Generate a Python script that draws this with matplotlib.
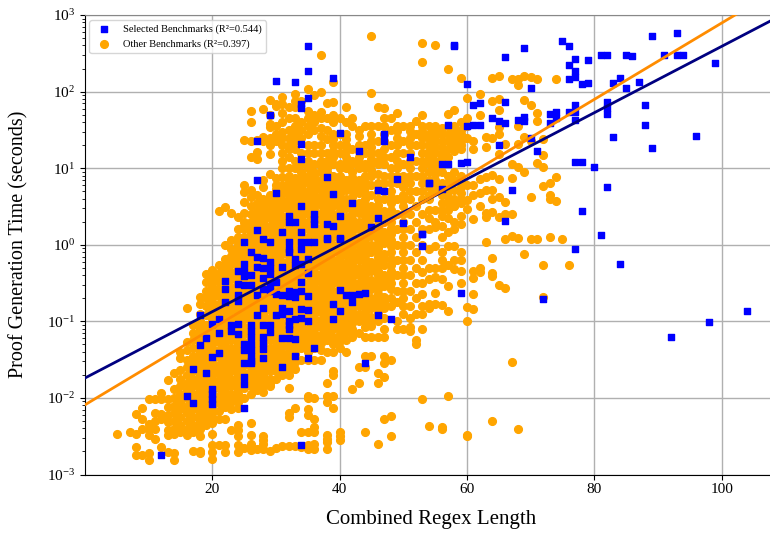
import numpy as np
import matplotlib
matplotlib.use("Agg")
import matplotlib.pyplot as plt
from matplotlib.ticker import NullFormatter

plt.rcParams["font.family"] = ["Liberation Serif", "DejaVu Serif"]
plt.rcParams["mathtext.fontset"] = "custom"
plt.rcParams["mathtext.rm"] = "Liberation Serif"
plt.rcParams["mathtext.it"] = "Liberation Serif:italic"
plt.rcParams["mathtext.default"] = "rm"

# selected benchmarks: regex length, log10 of seconds
selected_len = [35, 35, 30, 33, 39, 35, 34, 34, 29, 27, 40, 34, 47, 47, 43, 34, 51, 38, 49, 27, 54, 46, 47, 30, 39,
                42, 34, 32, 36, 36, 36, 32, 33, 40, 46, 38, 39, 45, 50, 27, 31, 34, 53, 38, 40,
                25, 28, 29, 32, 32, 32, 34, 35, 36, 34, 38, 40, 53, 26, 27, 28, 29, 29, 29, 33, 33, 35, 34, 31, 25,
                24, 25, 26, 25, 27, 28, 35, 22, 22, 24, 25, 26, 28, 28, 29, 30, 34, 27, 29, 30, 31, 32, 32, 33, 33,
                34, 35, 24, 24, 22, 40, 41, 42, 43, 44, 39, 42, 40, 39, 46, 48, 31, 31, 32, 30, 28, 27, 34, 35, 34,
                33, 35, 32, 18, 21, 20, 23, 23, 24, 24, 21, 19, 18, 26, 26, 26, 26, 26, 26, 26, 26, 25, 25, 28, 29,
                29, 28, 28, 28, 31, 32, 32, 32, 33, 36, 33, 35, 28, 21, 20, 25, 31, 44, 17, 19, 25, 25, 20, 20, 20,
                20, 16, 17, 25, 34, 12,
                58, 58, 69, 66, 75, 76, 77, 79, 76, 77, 77, 76, 78, 79, 81, 82, 85, 86, 89, 93, 91, 93, 94, 99, 83,
                84, 85, 87, 60, 70, 61, 62, 66, 77, 82, 82, 82, 88, 88, 73, 74, 74, 76, 77, 77, 73, 64, 65, 66, 68,
                69, 69, 57, 60, 61, 62, 83, 96, 89, 70, 65, 71, 77, 78, 80, 56, 57, 59, 60, 54, 56, 67, 82, 78, 66,
                53, 81, 77, 84, 59, 72, 92, 98, 104]
selected_log_time = [2.6, 2.27, 2.14, 2.13, 2.18, 1.92, 1.84, 1.78, 1.69, 1.36, 1.46, 1.32, 1.45, 1.36, 1.23, 1.12,
                     1.15, .88, .86, .84, .81, .72, .7, .67, .66, .54, .51, .37, .4, .34, .27, .3, .3, .37, .35,
                     .27, .24, .23, .29, .19, .17, .17, .14, .09, .09,
                     .03, .07, .03, .03, -.05, -.1, .03, .04, .04, -.05, .08, .08, -.01, -.09, -.16, -.17, -.23,
                     -.31, -.38, -.18, -.27, -.19, -.25, -.29, -.25, -.34, -.34, -.4, -.41, -.29, -.31, -.37, -.47,
                     -.58, -.51, -.53, -.53, -.44, -.58, -.53, -.49, -.49, -.65, -.6, -.64, -.66, -.6, -.67, -.62,
                     -.68, -.61, -.67, -.66, -.73, -.75, -.59, -.65, -.65, -.64, -.63, -.77, -.75, -.87, -.97, -.92,
                     -.97, -.83, -.9, -.87, -.92, -.82, -.92, -.84, -.85, -.95, -.97, -1.0, -.99, -.92, -.97, -1.03,
                     -1.05, -1.12, -1.03, -1.16, -1.15, -1.22, -1.31, -1.05, -1.13, -1.2, -1.3, -1.37, -1.45, -1.52,
                     -1.55, -1.29, -1.38, -1.05, -1.05, -1.14, -1.21, -1.28, -1.36, -1.22, -1.05, -1.1, -1.22, -1.23,
                     -1.35, -1.45, -1.48, -1.48, -1.42, -1.46, -1.54, -1.59, -1.55, -1.62, -1.67, -1.73, -1.82,
                     -1.88, -1.95, -2.01, -2.08, -1.97, -2.06, -2.13, -2.62, -2.74,
                     2.61, 2.59, 2.57, 2.45, 2.66, 2.6, 2.42, 2.41, 2.35, 2.27, 2.19, 2.16, 2.1, 2.11, 2.48, 2.48,
                     2.48, 2.47, 2.73, 2.76, 2.48, 2.48, 2.48, 2.37, 2.11, 2.18, 2.05, 2.13, 2.1, 2.05, 1.83, 1.85,
                     1.86, 1.83, 1.86, 1.78, 1.71, 1.83, 1.57, 1.71, 1.73, 1.65, 1.73, 1.73, 1.63, 1.59, 1.65, 1.62,
                     1.59, 1.63, 1.67, 1.62, 1.56, 1.55, 1.57, 1.56, 1.41, 1.42, 1.26, 1.39, 1.3, 1.22, 1.08, 1.08,
                     1.02, 1.05, 1.05, 1.07, 1.08, .81, .73, .71, .75, .44, .31, .14, .13, -.05, -.25, -.63, -.71,
                     -1.21, -1.01, -.87]

# other benchmarks: regex lengths and, for each length, log10 of seconds
other_len = [5, 7, 8, 9, 10, 11, 12, 13, 14, 15, 16, 17, 18, 19, 20, 21, 22, 23, 24, 25, 26, 27, 28, 29, 30, 31, 32,
             33, 34, 35, 36, 37, 38, 39, 40, 41, 42, 43, 44, 45, 46, 47, 48, 49, 50, 51, 52, 53, 54, 55, 56, 57,
             58, 59, 60, 61, 62, 63, 64, 65, 66, 67, 68, 69, 70, 71, 72, 73, 74, 75, 76]
other_log_time = [
    [-2.47],
    [-2.45],
    [-2.21, -2.47, -2.64, -2.74],
    [-2.13, -2.27, -2.4, -2.74],
    [-2.01, -2.34, -2.4, -2.48, -2.72, -2.81],
    [-2.01, -2.2, -2.3, -2.4, -2.54],
    [-1.94, -2.01, -2.21, -2.27, -2.64],
    [-1.77, -2.01, -2.12, -2.22, -2.32, -2.42, -2.48, -2.7],
    [-1.68, -1.88, -2.0, -2.1, -2.2, -2.3, -2.4, -2.47, -2.72, -2.81],
    [-1.4, -1.48, -1.64, -1.75, -1.85, -1.95, -2.05, -2.15, -2.25, -2.35, -2.45],
    [-.82, -1.27, -1.38, -1.5, -1.6, -1.7, -1.8, -1.9, -2.0, -2.1, -2.2, -2.3, -2.4, -2.48],
    [-1.05, -1.15, -1.25, -1.35, -1.45, -1.55, -1.65, -1.75, -1.85, -1.95, -2.05, -2.15, -2.25, -2.35, -2.45, -2.69],
    [-.68, -.77, -.9, -1.0, -1.1, -1.2, -1.3, -1.4, -1.5, -1.6, -1.7, -1.8, -1.9, -2.0, -2.1, -2.2, -2.3, -2.4, -2.5,
     -2.69, -2.72],
    [-.38, -.48, -.6, -.7, -.8, -.92, -1.05, -1.15, -1.25, -1.35, -1.45, -1.55, -1.65, -1.75, -1.85, -1.95, -2.05,
     -2.15, -2.25, -2.35],
    [-.33, -.45, -.55, -.65, -.75, -.85, -.95, -1.05, -1.15, -1.25, -1.35, -1.45, -1.55, -1.65, -1.75, -1.85, -1.95,
     -2.05, -2.15, -2.25, -2.33, -2.47, -2.62, -2.7, -2.8],
    [.44, -.27, -.37, -.47, -.57, -.67, -.77, -.87, -.97, -1.07, -1.17, -1.27, -1.37, -1.47, -1.57, -1.67, -1.77,
     -1.87, -1.97, -2.07, -2.17, -2.28, -2.62],
    [.49, .0, -.18, -.3, -.42, -.52, -.62, -.72, -.82, -.92, -1.02, -1.12, -1.22, -1.32, -1.42, -1.52, -1.62, -1.72,
     -1.82, -1.92, -2.02, -2.12, -2.27, -2.62, -2.7],
    [.42, .06, -.05, -.15, -.25, -.35, -.45, -.55, -.65, -.75, -.85, -.95, -1.05, -1.15, -1.25, -1.35, -1.45, -1.55,
     -1.65, -1.75, -1.85, -1.95, -2.05, -2.15, -2.42],
    [.36, .2, .1, .0, -.1, -.2, -.3, -.4, -.5, -.6, -.7, -.8, -.9, -1.0, -1.1, -1.2, -1.3, -1.4, -1.5, -1.6, -1.7,
     -1.8, -1.9, -2.0, -2.13, -2.35, -2.42, -2.5, -2.62, -2.7],
    [1.37, .78, .69, .56, .41, .3, .2, .1, .03, -.07, -.17, -.27, -.37, -.47, -.57, -.67, -.77, -.87, -.97, -1.07,
     -1.17, -1.27, -1.37, -1.47, -1.57, -1.67, -1.77, -1.87, -2.0, -2.65],
    [1.75, 1.6, 1.36, 1.15, .72, .62, .5, .4, .3, .2, .1, .0, -.1, -.2, -.3, -.4, -.5, -.6, -.7, -.8, -.9, -1.0, -1.1,
     -1.2, -1.3, -1.4, -1.5, -1.6, -1.7, -1.8, -1.95, -2.33, -2.48, -2.6, -2.68],
    [1.37, 1.21, 1.12, .65, .55, .44, .34, .24, .14, .04, -.06, -.16, -.26, -.36, -.46, -.56, -.66, -.76, -.86, -.96,
     -1.06, -1.16, -1.26, -1.36, -1.46, -1.56, -1.66, -1.76, -1.9, -2.67],
    [1.77, 1.41, 1.36, .85, .75, .6, .5, .4, .3, .2, .1, .0, -.1, -.2, -.3, -.4, -.5, -.6, -.7, -.8, -.9, -1.0, -1.1,
     -1.2, -1.3, -1.4, -1.5, -1.6, -1.7, -1.8, -1.92, -2.5, -2.55, -2.6, -2.67],
    [1.89, 1.7, 1.58, 1.54, 1.4, .92, .65, .55, .45, .35, .25, .15, .05, -.05, -.15, -.25, -.35, -.45, -.55, -.65,
     -.75, -.85, -.95, -1.05, -1.15, -1.25, -1.35, -1.45, -1.55, -1.65, -1.75, -1.85, -2.69],
    [1.84, 1.81, 1.55, 1.45, 1.35, .87, .78, .68, .58, .48, .38, .28, .18, .08, -.02, -.12, -.22, -.32, -.42, -.52,
     -.62, -.72, -.82, -.92, -1.02, -1.12, -1.22, -1.32, -1.42, -1.52, -1.62, -1.75, -2.66],
    [1.93, 1.84, 1.72, 1.47, 1.4, 1.1, 1.0, .88, .78, .68, .58, .48, .38, .28, .18, .08, -.02, -.12, -.22, -.32, -.42,
     -.52, -.62, -.72, -.82, -.92, -1.02, -1.12, -1.22, -1.32, -1.42, -1.52, -1.62, -1.7, -2.63],
    [1.8, 1.5, 1.4, 1.15, 1.0, .9, .8, .7, .6, .5, .4, .3, .2, .1, .0, -.1, -.2, -.3, -.4, -.5, -.6, -.7, -.8, -.9,
     -1.0, -1.1, -1.2, -1.3, -1.4, -1.5, -1.6, -1.7, -1.87, -2.2, -2.25, -2.63],
    [1.97, 1.88, 1.8, 1.45, 1.35, 1.1, 1.0, .87, .77, .67, .57, .47, .37, .27, .17, .07, -.03, -.13, -.23, -.33, -.43,
     -.53, -.63, -.73, -.83, -.93, -1.03, -1.13, -1.23, -1.33, -1.43, -1.53, -1.62, -2.13, -2.63],
    [1.88, 1.6, 1.5, 1.4, 1.2, 1.05, .95, .85, .75, .65, .55, .45, .35, .25, .15, .05, -.05, -.15, -.25, -.35, -.45,
     -.55, -.65, -.75, -.85, -.95, -1.05, -1.15, -1.25, -1.35, -1.5, -2.45, -2.64],
    [2.04, 1.65, 1.55, 1.45, 1.3, 1.1, 1.0, .9, .8, .7, .6, .5, .4, .3, .2, .1, .0, -.1, -.2, -.3, -.4, -.5, -.6, -.7,
     -.8, -.9, -1.0, -1.1, -1.2, -1.3, -1.4, -1.5, -1.97, -2.0, -2.15, -2.22, -2.45, -2.62, -2.67],
    [1.95, 1.7, 1.6, 1.5, 1.3, 1.2, 1.05, .95, .85, .75, .65, .55, .45, .35, .25, .15, .05, -.05, -.15, -.25, -.35,
     -.45, -.55, -.65, -.75, -.85, -.95, -1.05, -1.15, -1.25, -1.35, -1.5, -2.0, -2.28, -2.38, -2.45, -2.6, -2.67],
    [2.48, 2.0, 1.73, 1.53, 1.3, 1.2, 1.1, .95, .85, .72, .62, .52, .42, .32, .22, .12, .02, -.08, -.18, -.28, -.38,
     -.48, -.58, -.68, -.78, -.88, -.98, -1.08, -1.18, -1.28, -1.38, -1.5],
    [1.85, 1.65, 1.5, 1.38, 1.2, 1.1, 1.0, .9, .78, .66, .56, .46, .36, .26, .16, .06, -.04, -.14, -.24, -.34, -.44,
     -.54, -.64, -.74, -.84, -.94, -1.04, -1.14, -1.24, -1.4, -1.8, -1.97, -2.05, -2.48, -2.53, -2.58, -2.67],
    [2.13, 1.87, 1.6, 1.45, 1.3, 1.15, 1.05, .9, .74, .62, .5, .4, .3, .2, .1, .0, -.1, -.2, -.3, -.4, -.5, -.6, -.7,
     -.8, -.9, -1.0, -1.1, -1.2, -1.3, -1.4, -1.65, -1.7, -1.97, -2.13],
    [1.65, 1.45, 1.3, 1.2, 1.05, .9, .8, .68, .55, .44, .33, .24, .14, .04, -.06, -.16, -.26, -.36, -.46, -.56, -.66,
     -.76, -.86, -.96, -1.06, -1.16, -1.26, -1.35, -2.45, -2.5, -2.55],
    [1.8, 1.3, 1.15, 1.0, .85, .72, .6, .48, .36, .26, .16, .06, -.04, -.14, -.24, -.34, -.44, -.54, -.64, -.74, -.84,
     -.94, -1.04, -1.14, -1.24, -1.4],
    [1.65, 1.55, 1.25, 1.1, .95, .8, .62, .5, .4, .28, .18, .08, -.02, -.12, -.22, -.32, -.42, -.52, -.62, -.72, -.82,
     -.92, -1.02, -1.12, -1.2, -1.88],
    [1.3, 1.15, 1.0, .85, .68, .55, .42, .3, .2, .1, .0, -.1, -.2, -.3, -.4, -.5, -.6, -.7, -.8, -.9, -1.0, -1.15,
     -1.6, -1.8],
    [1.55, 1.3, 1.2, 1.05, .9, .75, .6, .45, .32, .22, .12, .02, -.08, -.18, -.28, -.38, -.48, -.58, -.68, -.78, -.88,
     -.98, -1.08, -1.2, -1.45, -1.6, -2.44],
    [2.72, 1.98, 1.55, 1.35, 1.2, 1.05, .9, .65, .5, .35, .24, .12, .0, -.1, -.22, -.34, -.46, -.58, -.7, -.82, -.94,
     -1.06, -1.2, -1.45],
    [1.8, 1.55, 1.35, 1.2, 1.05, .8, .6, .45, .32, .2, .08, -.04, -.16, -.28, -.4, -.52, -.64, -.76, -.88, -1.0, -1.2,
     -1.67, -1.8, -2.6],
    [1.78, 1.65, 1.55, 1.35, 1.15, .9, .8, .6, .44, .3, .16, .02, -.12, -.26, -.4, -.54, -.68, -.82, -.95, -1.1, -1.2,
     -1.45, -1.55, -1.73, -2.27],
    [1.65, 1.5, 1.3, 1.15, .9, .7, .55, .38, .22, .06, -.1, -.26, -.42, -.58, -.8, -1.5, -2.23, -2.5],
    [1.72, 1.55, 1.4, 1.2, 1.0, .8, .6, .4, .2, .0, -.2, -.4, -.6, -.75, -1.0, -1.1],
    [1.55, 1.35, 1.2, 1.05, .85, .65, .5, .3, .1, -.1, -.3, -.5, -.7, -.9, -1.1],
    [1.55, 1.4, 1.2, 1.0, .8, .6, .4, .2, .0, -.2, -.4, -.6, -.8, -.95, -1.07, -1.12],
    [1.62, 1.45, 1.3, 1.1, .9, .7, .5, .3, .1, -.1, -.3, -.5, -.7, -.9, -1.25, -1.3],
    [2.64, 2.38, 1.7, 1.55, 1.4, 1.2, 1.0, .8, .6, .4, .2, .0, -.2, -.35, -.5, -.64, -.8, -.9, -1.1, -2.02],
    [1.55, 1.45, 1.3, 1.15, .95, .75, .6, .35, .2, -.05, -.3, -.45, -.77, -.82, -2.37],
    [2.61, 1.55, 1.5, 1.35, 1.2, 1.0, .85, .7, .45, .3, .23, -.02, -.3, -.42, -.63, -.78],
    [1.35, 1.15, 1.05, .65, .55, .38, .25, -.1, -.31, -.45, -.79, -2.38, -2.41],
    [2.29, 1.71, 1.55, 1.35, 1.25, .9, .7, .55, .45, .35, .17, -.02, -.27, -.54, -.86, -1.98],
    [1.76, 1.55, 1.42, 1.3, .95, .72, .6, .5, .3, -.01, -.32],
    [2.18, 1.6, 1.5, 1.4, 1.3, 1.25, .9, .75, .6, .55, .38, .27, -.1, -.2, -.34, -.5],
    [1.92, 1.65, 1.55, 1.4, .78, .59, .47, -.81, -.99, -2.48, -2.5],
    [1.36, 1.25, .78, .65, .34, -.34, -.44, -.64, -.84],
    [1.97, 1.7, .86, .68, .51, -.3, -.35],
    [1.41, 1.28, .88, .71, .41, .36, .03],
    [2.18, 1.88, 1.39, .91, .71, .6, .43, -.17, -.37, -.41, -2.3],
    [2.2, 1.9, 1.76, 1.54, 1.45, 1.19, .86, .63, .36, -.52],
    [1.32, .56, .4, .07, -.57],
    [2.16, 1.06, .87, .4, .12, -1.53],
    [2.17, 2.08, 1.55, 1.31, 1.02, .09, -2.41],
    [2.21, 1.89, 1.41, .95, -.12],
    [2.19, 1.83, 1.36, .62, .07],
    [2.17, 1.72, 1.61, 1.07, .07],
    [1.38, 1.17, 1.01, .77, -.26, -.68],
    [.8, .65, .6, .1],
    [2.17, .89, .57],
    [.07],
    [-.27],
]

# more of the other benchmarks, where the cloud is packed solid
dense_len = [18, 20, 22, 24, 26, 28, 30, 32, 34, 36, 38, 40, 42, 44, 46, 48, 50]
dense_log_time = [
    [-1.05, -1.15, -1.25, -1.35, -1.45, -1.55, -1.65, -1.75, -1.85, -1.95, -2.05, -2.15, -2.25, -2.35],
    [-.4, -.5, -.6, -.7, -.8, -.9, -1.0, -1.1, -1.2, -1.3, -1.4, -1.5, -1.6, -1.7, -1.8, -1.9, -2.0, -2.1, -2.2, -2.3],
    [-.25, -.37, -.47, -.57, -.67, -.77, -.87, -.97, -1.07, -1.17, -1.27, -1.37, -1.47, -1.57, -1.67, -1.77, -1.87,
     -1.97, -2.07],
    [.05, -.05, -.15, -.25, -.35, -.45, -.55, -.65, -.75, -.85, -.95, -1.05, -1.15, -1.25, -1.35, -1.45, -1.55, -1.65,
     -1.75, -1.85, -1.95, -2.05],
    [.15, .05, -.05, -.15, -.25, -.35, -.45, -.55, -.65, -.75, -.85, -.95, -1.05, -1.15, -1.25, -1.35, -1.45, -1.55,
     -1.65, -1.75, -1.85],
    [.55, .45, .35, .25, .15, .05, -.05, -.15, -.25, -.35, -.45, -.55, -.65, -.75, -.85, -.95, -1.05, -1.15, -1.25,
     -1.35, -1.45, -1.55, -1.65, -1.75, -1.85],
    [.73, .63, .53, .43, .33, .23, .13, .03, -.07, -.17, -.27, -.37, -.47, -.57, -.67, -.77, -.87, -.97, -1.07, -1.17,
     -1.27, -1.37, -1.47, -1.57, -1.65],
    [.85, .75, .65, .55, .45, .35, .25, .15, .05, -.05, -.15, -.25, -.35, -.45, -.55, -.65, -.75, -.85, -.95, -1.05,
     -1.15, -1.25, -1.35, -1.45, -1.55, -1.65],
    [.9, .8, .7, .6, .5, .4, .3, .2, .1, .0, -.1, -.2, -.3, -.4, -.5, -.6, -.7, -.8, -.9, -1.0, -1.1, -1.2, -1.3],
    [.9, .8, .7, .6, .5, .4, .3, .2, .1, .0, -.1, -.2, -.3, -.4, -.5, -.6, -.7, -.8, -.9, -1.0, -1.1, -1.2, -1.3],
    [.95, .84, .72, .61, .51, .41, .31, .21, .11, .01, -.09, -.19, -.29, -.39, -.49, -.59, -.69, -.79, -.89, -.99,
     -1.09, -1.2],
    [1.0, .85, .74, .62, .5, .38, .28, .19, .09, -.01, -.11, -.21, -.31, -.41, -.51, -.61, -.71, -.81, -.91, -1.01,
     -1.11, -1.2],
    [1.05, .88, .72, .56, .45, .34, .23, .13, .03, -.07, -.17, -.27, -.37, -.47, -.57, -.67, -.77, -.87, -.97, -1.1],
    [1.0, .82, .68, .52, .38, .27, .17, .07, -.03, -.13, -.23, -.33, -.43, -.53, -.63, -.73, -.83, -.93, -1.0],
    [1.1, .92, .7, .52, .38, .26, .14, .02, -.1, -.22, -.34, -.46, -.58, -.7, -.82, -.9],
    [1.0, .8, .62, .46, .3, .14, -.02, -.18, -.34, -.5, -.7],
    [.9, .75, .58, .4, .2, .0, -.2, -.4, -.6, -.8],
]

# the upper, looser part of the cloud
upper_len = [29, 31, 32, 33, 35, 37, 39, 41, 43, 45, 47, 49, 51, 53, 54, 55, 56, 57, 58, 59]
upper_log_time = [
    [1.3, 1.18],
    [1.6, 1.3, 1.2],
    [1.65, 1.3, 1.25],
    [1.65, 1.55, 1.25],
    [1.75, 1.2],
    [1.65, 1.42, 1.03],
    [1.7, 1.38, 1.22],
    [1.6, 1.45, 1.38, 1.22, 1.08],
    [1.5, 1.42, 1.22, 1.08],
    [1.45, 1.28, 1.12, .98],
    [1.45, 1.25, 1.05],
    [1.48, 1.3, 1.1, .9],
    [1.48, 1.3, 1.1, .9, .7],
    [1.48, 1.3, 1.1, .9, .7],
    [1.38, 1.22, 1.05, .85, .65, .45],
    [1.42, 1.28, 1.1, .92, .78],
    [1.52, 1.45, 1.28, 1.2, .95, .8, .45, .1, -.2],
    [1.45, 1.15, .8, .62],
    [1.48, 1.36, 1.22, .85, .5, .2, -.2],
    [1.45, 1.35, .82, .68],
]

# odd lengths in the packed part, between the dots listed above
odd_len = [21, 23, 25, 27, 29, 31, 33, 35, 37, 39, 41, 43, 45, 47]
odd_log_time = [
    [-.42, -.62, -.82, -1.02, -1.22, -1.42, -1.62, -1.82, -2.02],
    [-.2, -.4, -.6, -.8, -1.0, -1.2, -1.4, -1.6, -1.8, -2.0],
    [.25, .05, -.12, -.32, -.52, -.72, -.92, -1.12, -1.32, -1.52, -1.72],
    [.39, .19, -.01, -.21, -.41, -.61, -.81, -1.01, -1.21, -1.41, -1.61, -1.81],
    [.6, .4, .2, .0, -.2, -.4, -.6, -.8, -1.0, -1.2, -1.4, -1.6, -1.8],
    [.73, .53, .33, .13, -.07, -.27, -.47, -.67, -.87, -1.07, -1.27, -1.47],
    [.82, .62, .42, .22, .02, -.18, -.38, -.58, -.78, -.98, -1.18, -1.38],
    [.85, .65, .45, .25, .05, -.15, -.35, -.55, -.75, -.95, -1.15, -1.35],
    [.8, .57, .37, .17, -.03, -.23, -.43, -.63, -.83, -1.03, -1.23],
    [.82, .56, .35, .15, -.05, -.25, -.45, -.65, -.85, -1.05, -1.25],
    [.78, .54, .31, .11, -.09, -.29, -.49, -.69, -.89, -1.09],
    [.76, .48, .25, .05, -.15, -.35, -.55, -.75, -.95],
    [.78, .42, .18, -.04, -.28, -.52, -.76, -1.0],
    [.7, .37, .09, -.19, -.47, -.75],
]

# fitted lines: slope and intercept in log10 seconds
selected_fit = [.0433, -1.74]
other_fit = [.04985, -2.09]
selected_label = "Selected Benchmarks (R²=0.544)"
other_label = "Other Benchmarks (R²=0.397)"
x_ticks = [20, 40, 60, 80, 100]
y_ticks = [1e-3, 1e-2, 1e-1, 1e0, 1e1, 1e2, 1e3]
y_minor = [m * d for d in y_ticks[:-1] for m in range(2, 10)]

other_columns = other_log_time + dense_log_time + upper_log_time + odd_log_time
other_x = np.repeat(other_len + dense_len + upper_len + odd_len, [len(v) for v in other_columns])
other_y = 10 ** np.concatenate(other_columns)
selected_y = 10 ** np.array(selected_log_time)

fig = plt.figure(figsize=(7.7, 5.36), dpi=100)
ax = fig.add_axes([85 / 770, 1 - 474.5 / 536, 685 / 770, 459.5 / 536])

others = ax.scatter(other_x, other_y, s=31, c="orange", marker="o", zorder=3)
selected = ax.scatter(selected_len, selected_y, s=24, c="blue", marker="s", zorder=4)

line_x = np.array([0, 107.6])
ax.plot(line_x, 10 ** (selected_fit[0] * line_x + selected_fit[1]), color="navy", lw=2, zorder=5)
ax.plot(line_x, 10 ** (other_fit[0] * line_x + other_fit[1]), color="darkorange", lw=2, zorder=5)

ax.set_yscale("log")
ax.set_xticks(x_ticks)
ax.set_yticks(y_ticks)
ax.set_yticks(y_minor, minor=True)
ax.yaxis.set_minor_formatter(NullFormatter())
ax.set_xlim(0, 107.6)
ax.set_ylim(1e-3, 1e3)
ax.grid(True, which="major", color="#b0b0b0", lw=1, zorder=1)
ax.set_axisbelow(True)
ax.tick_params(labelsize=11)
ax.tick_params(axis="x", pad=2.5)
ax.spines["right"].set_visible(False)
ax.spines["top"].set_color("#888888")
ax.set_xlabel("Combined Regex Length", fontsize=15, labelpad=10, x=0.505)
ax.set_ylabel("Proof Generation Time (seconds)", fontsize=14.5, labelpad=13)
ax.legend([selected, others], [selected_label, other_label], loc="upper left", fontsize=7.5,
          bbox_to_anchor=(0.002, 0.995), borderaxespad=0.3)

fig.savefig("out.png", dpi=100)
